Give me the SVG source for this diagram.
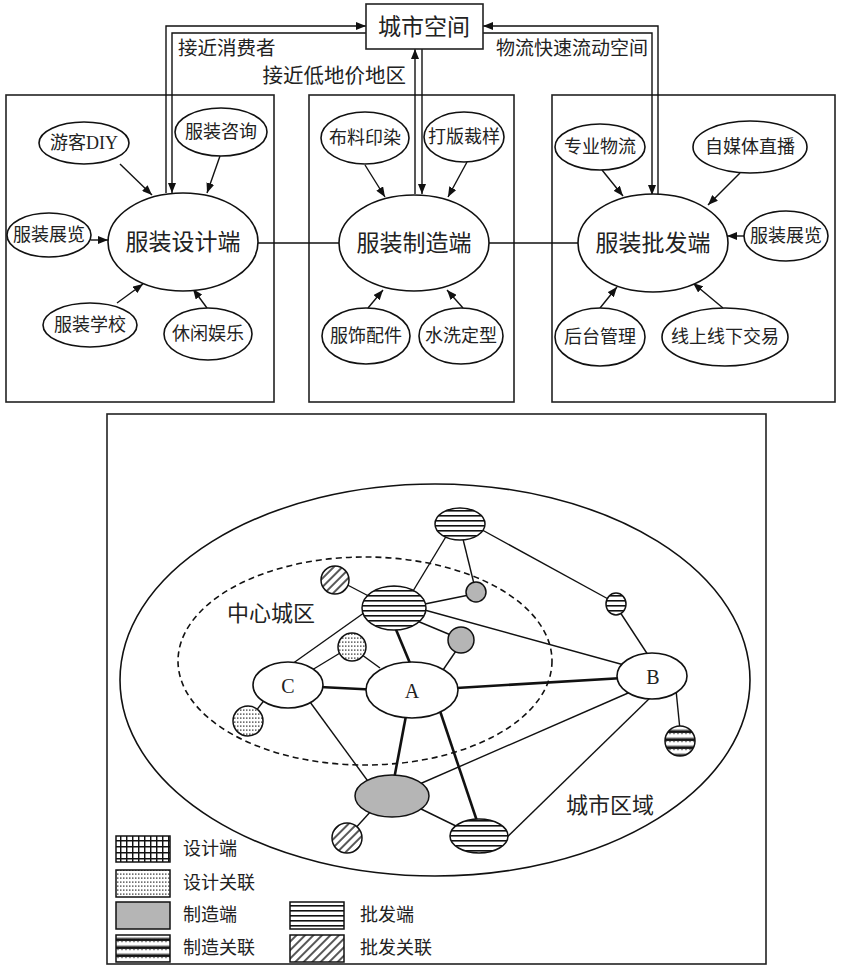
<svg xmlns="http://www.w3.org/2000/svg" width="842" height="973" viewBox="0 0 842 973">
<style>
text{font-family:"Liberation Serif","Noto Sans CJK SC",serif;fill:#222;text-anchor:middle;dominant-baseline:central}
.n{fill:#fff;stroke:#111;stroke-width:1.6}
.box{fill:none;stroke:#222;stroke-width:1.6}
.ln{fill:none;stroke:#111;stroke-width:1.4}
.ar{fill:none;stroke:#111;stroke-width:1.4;marker-end:url(#ah)}
.th{fill:none;stroke:#111;stroke-width:2.6}
.t18{font-size:18px}
.t23{font-size:23px}
.t20{font-size:20px}
.lab{font-size:19.5px;text-anchor:start}
.g{fill:#b5b5b5;stroke:#111;stroke-width:1.5}
.p{stroke:#111;stroke-width:1.5}
</style>
<defs>
<marker id="ah" viewBox="0 0 10 8" refX="10" refY="4" markerWidth="10" markerHeight="8" markerUnits="userSpaceOnUse" orient="auto"><path d="M0,0 L10,4 L0,8 z" fill="#111"/></marker>
<pattern id="grid" patternUnits="userSpaceOnUse" width="6" height="6"><rect width="6" height="6" fill="#fff"/><path d="M0 0.7H6M0.7 0V6" stroke="#111" stroke-width="1.5"/></pattern>
<pattern id="dots" patternUnits="userSpaceOnUse" width="3" height="4"><rect width="3" height="4" fill="#fff"/><rect x="0" y="1.5" width="1.5" height="1.2" fill="#333"/></pattern>
<pattern id="stripes" patternUnits="userSpaceOnUse" width="6" height="5"><rect width="6" height="5" fill="#fff"/><rect y="0" width="6" height="1.6" fill="#111"/></pattern>
<pattern id="wavy" patternUnits="userSpaceOnUse" width="4" height="8"><rect width="4" height="8" fill="#fff"/><path d="M0 5 L1 2.5 L2 5 L3 2.5 L4 5" fill="none" stroke="#111" stroke-width="1.3"/></pattern>
<pattern id="hatch" patternUnits="userSpaceOnUse" width="6" height="6" patternTransform="rotate(45)"><rect width="6" height="6" fill="#fff"/><path d="M1 0V6" stroke="#111" stroke-width="1.4"/></pattern>
</defs>
<rect width="842" height="973" fill="#fff"/>

<g id="frames">
<rect class="box" x="6" y="95" width="268" height="307"/>
<rect class="box" x="309" y="95" width="205" height="307"/>
<rect class="box" x="552" y="95" width="283" height="307"/>
</g>

<g id="connectors-top">
<path class="ar" d="M166,193 V26 H366"/>
<path class="ar" d="M366,33 H172 V193"/>
<path class="ar" d="M415,194 V49"/>
<path class="ar" d="M422,49 V194"/>
<path class="ar" d="M658,195 V26 H483"/>
<path class="ar" d="M483,33 H652 V195"/>
<path class="ln" d="M258,243 H339"/>
<path class="ln" d="M489,243 H578"/>
<line class="ar" x1="120" y1="164" x2="152" y2="195"/>
<line class="ar" x1="220" y1="156" x2="207" y2="193"/>
<line class="ar" x1="91" y1="240" x2="108" y2="240"/>
<line class="ar" x1="117" y1="303" x2="143" y2="284"/>
<line class="ar" x1="207" y1="308" x2="193" y2="289"/>
<line class="ar" x1="365" y1="165" x2="385" y2="197"/>
<line class="ar" x1="467" y1="162" x2="448" y2="197"/>
<line class="ar" x1="368" y1="308" x2="383" y2="290"/>
<line class="ar" x1="463" y1="308" x2="447" y2="290"/>
<line class="ar" x1="602" y1="170" x2="623" y2="196"/>
<line class="ar" x1="740" y1="173" x2="708" y2="205"/>
<line class="ar" x1="744" y1="236" x2="727" y2="236"/>
<line class="ar" x1="600" y1="308" x2="617" y2="287"/>
<line class="ar" x1="723" y1="308" x2="693" y2="283"/>
</g>

<g id="city-space"><rect class="box" x="366" y="4" width="117" height="45" fill="#fff"/><text x="424" y="27" class="t23">城市空间</text></g>
<text x="178" y="48" class="lab">接近消费者</text>
<text x="406" y="76" class="lab" style="text-anchor:end;font-size:20.5px">接近低地价地区</text>
<text x="496" y="48" class="lab" style="font-size:19px">物流快速流动空间</text>

<g id="design"><ellipse class="n" cx="183" cy="242" rx="75" ry="49"/><text x="183" y="242" class="t23">服装设计端</text></g>
<g id="youke"><ellipse class="n" cx="84" cy="143" rx="45" ry="21"/><text x="84" y="143" class="t18">游客DIY</text></g>
<g id="zixun"><ellipse class="n" cx="221" cy="132" rx="46" ry="24"/><text x="221" y="132" class="t18">服装咨询</text></g>
<g id="zhanlan1"><ellipse class="n" cx="49" cy="235" rx="42" ry="22"/><text x="49" y="235" class="t18">服装展览</text></g>
<g id="xuexiao"><ellipse class="n" cx="90" cy="325" rx="47" ry="22"/><text x="90" y="325" class="t18">服装学校</text></g>
<g id="xiuxian"><ellipse class="n" cx="208" cy="334" rx="44" ry="26"/><text x="208" y="334" class="t18">休闲娱乐</text></g>

<g id="manu"><ellipse class="n" cx="414" cy="243" rx="75" ry="48"/><text x="414" y="243" class="t23">服装制造端</text></g>
<g id="buliao"><ellipse class="n" cx="365" cy="138" rx="44" ry="26"/><text x="365" y="138" class="t18">布料印染</text></g>
<g id="daban"><ellipse class="n" cx="464" cy="137" rx="40" ry="25"/><text x="464" y="137" class="t18">打版裁样</text></g>
<g id="fushi"><ellipse class="n" cx="366" cy="336" rx="44" ry="28"/><text x="366" y="336" class="t18">服饰配件</text></g>
<g id="shuixi"><ellipse class="n" cx="461" cy="336" rx="42" ry="28"/><text x="461" y="336" class="t18">水洗定型</text></g>

<g id="whole"><ellipse class="n" cx="653" cy="243" rx="75" ry="49"/><text x="653" y="243" class="t23">服装批发端</text></g>
<g id="wuliu"><ellipse class="n" cx="600" cy="147" rx="45" ry="23"/><text x="600" y="147" class="t18">专业物流</text></g>
<g id="zimeiti"><ellipse class="n" cx="750" cy="147" rx="57" ry="26"/><text x="750" y="147" class="t18">自媒体直播</text></g>
<g id="zhanlan2"><ellipse class="n" cx="786" cy="236" rx="42" ry="25"/><text x="786" y="236" class="t18">服装展览</text></g>
<g id="houtai"><ellipse class="n" cx="600" cy="337" rx="45" ry="29"/><text x="600" y="337" class="t18">后台管理</text></g>
<g id="jiaoyi"><ellipse class="n" cx="725" cy="337" rx="63" ry="29"/><text x="725" y="337" class="t18">线上线下交易</text></g>

<rect class="box" x="107" y="414" width="659" height="550"/>
<g id="city-region"><ellipse fill="none" stroke="#111" stroke-width="1.6" cx="435" cy="680" rx="315" ry="196"/><text x="610" y="805" style="font-size:22px">城市区域</text></g>
<g id="center-city"><ellipse fill="none" stroke="#111" stroke-width="1.6" stroke-dasharray="6 4" cx="365" cy="661" rx="187" ry="104"/><text x="271" y="613" style="font-size:22px">中心城区</text></g>

<g id="connectors-bottom">
<line class="ln" x1="292" y1="664" x2="368" y2="610"/>
<line class="ln" x1="312" y1="670" x2="345" y2="650"/>
<line class="ln" x1="358" y1="652" x2="380" y2="668"/>
<line class="ln" x1="266" y1="698" x2="252" y2="716"/>
<line class="ln" x1="310" y1="702" x2="370" y2="784"/>
<line class="ln" x1="415" y1="806" x2="460" y2="828"/>
<line class="ln" x1="372" y1="810" x2="352" y2="832"/>
<line class="ln" x1="415" y1="786" x2="635" y2="690"/>
<line class="ln" x1="500" y1="844" x2="652" y2="696"/>
<line class="ln" x1="676" y1="690" x2="680" y2="730"/>
<line class="ln" x1="650" y1="658" x2="616" y2="606"/>
<line class="ln" x1="610" y1="600" x2="475" y2="526"/>
<line class="ln" x1="635" y1="668" x2="410" y2="606"/>
<line class="ln" x1="410" y1="596" x2="450" y2="530"/>
<line class="ln" x1="462" y1="535" x2="475" y2="588"/>
<line class="ln" x1="410" y1="607" x2="474" y2="594"/>
<line class="ln" x1="410" y1="618" x2="458" y2="638"/>
<line class="ln" x1="458" y1="648" x2="443" y2="670"/>
<line class="ln" x1="338" y1="580" x2="380" y2="602"/>
<line class="th" x1="300" y1="686" x2="380" y2="690"/>
<line class="th" x1="440" y1="689" x2="640" y2="677"/>
<line class="th" x1="392" y1="620" x2="412" y2="668"/>
<line class="th" x1="408" y1="705" x2="392" y2="790"/>
<line class="th" x1="438" y1="705" x2="480" y2="830"/>
</g>

<g id="node-A"><ellipse class="n" cx="412" cy="690" rx="46" ry="28"/><text x="412" y="691" class="t20">A</text></g>
<g id="node-B"><ellipse class="n" cx="652" cy="676" rx="35" ry="23"/><text x="653" y="677" class="t20">B</text></g>
<g id="node-C"><ellipse class="n" cx="288" cy="685" rx="35" ry="23"/><text x="288" y="686" class="t20">C</text></g>
<g id="w1"><ellipse class="p" fill="url(#stripes)" cx="394" cy="608" rx="32" ry="22"/></g>
<g id="w2"><ellipse class="p" fill="url(#stripes)" cx="460" cy="524" rx="25" ry="16"/></g>
<g id="w3"><ellipse class="p" fill="url(#stripes)" cx="479" cy="836" rx="29" ry="17"/></g>
<g id="w4"><ellipse class="p" fill="url(#stripes)" cx="616" cy="604" rx="10" ry="11"/></g>
<g id="h1"><circle class="p" fill="url(#hatch)" cx="335" cy="580" r="14"/></g>
<g id="h2"><circle class="p" fill="url(#hatch)" cx="347" cy="838" r="15"/></g>
<g id="m1"><circle class="g" cx="476" cy="592" r="10"/></g>
<g id="m2"><circle class="g" cx="461" cy="640" r="13"/></g>
<g id="m3"><ellipse class="g" cx="392" cy="796" rx="37" ry="21"/></g>
<g id="d1"><circle class="p" fill="url(#dots)" cx="352" cy="647" r="14"/></g>
<g id="d2"><circle class="p" fill="url(#dots)" cx="248" cy="721" r="15"/></g>
<g id="mw"><circle class="p" fill="url(#wavy)" cx="680" cy="741" r="15"/></g>

<g id="legend">
<rect class="p" fill="url(#grid)" x="116" y="836" width="54" height="26"/>
<text x="183" y="849" class="lab" style="font-size:18px">设计端</text>
<rect class="p" fill="url(#dots)" x="116" y="870" width="54" height="27"/>
<text x="183" y="883" class="lab" style="font-size:18px">设计关联</text>
<rect class="g" x="116" y="902" width="54" height="27"/>
<text x="183" y="915" class="lab" style="font-size:18px">制造端</text>
<rect class="p" fill="url(#wavy)" x="116" y="935" width="54" height="27"/>
<text x="183" y="948" class="lab" style="font-size:18px">制造关联</text>
<rect class="p" fill="url(#stripes)" x="290" y="902" width="54" height="27"/>
<text x="360" y="915" class="lab" style="font-size:18px">批发端</text>
<rect class="p" fill="url(#hatch)" x="290" y="935" width="54" height="27"/>
<text x="360" y="948" class="lab" style="font-size:18px">批发关联</text>
</g>
</svg>
